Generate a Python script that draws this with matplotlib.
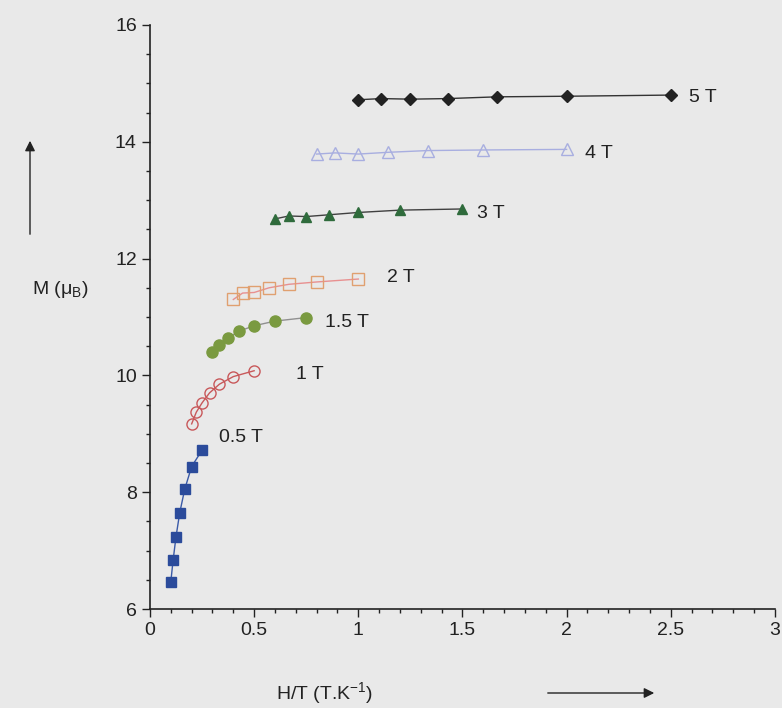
import numpy as np
import matplotlib.pyplot as plt

plt.rcParams['font.family'] = ['Liberation Sans', 'DejaVu Sans']

# temperatures (K) -> H/T for each field
temps = [5, 4.5, 4, 3.5, 3, 2.5, 2]

m_05 = [6.47, 6.84, 7.24, 7.65, 8.05, 8.44, 8.72]
m_1 = [9.17, 9.37, 9.53, 9.70, 9.85, 9.98, 10.08]
m_15 = [10.40, 10.52, 10.64, 10.76, 10.85, 10.93, 10.99]
m_2 = [11.30, 11.41, 11.42, 11.50, 11.56, 11.60, 11.65]
m_3 = [12.68, 12.73, 12.72, 12.75, 12.79, 12.83, 12.85]
m_4 = [13.79, 13.81, 13.79, 13.82, 13.85, 13.86, 13.87]
m_5 = [14.72, 14.74, 14.73, 14.74, 14.77, 14.78, 14.80]

fields = [0.5, 1, 1.5, 2, 3, 4, 5]
labels = ['0.5 T', '1 T', '1.5 T', '2 T', '3 T', '4 T', '5 T']
series = [m_05, m_1, m_15, m_2, m_3, m_4, m_5]

styles = [
    dict(marker='s', mfc='#2b4b9b', mec='#2b4b9b', color='#3a5aa8', ms=7),
    dict(marker='o', mfc='none', mec='#c8585a', color='#c8585a', ms=8),
    dict(marker='o', mfc='#7a9a40', mec='#7a9a40', color='#909090', ms=8),
    dict(marker='s', mfc='none', mec='#e0a070', color='#e89090', ms=8),
    dict(marker='^', mfc='#2f6b3c', mec='#2f6b3c', color='#404040', ms=7),
    dict(marker='^', mfc='none', mec='#a8aee0', color='#a8aee0', ms=8),
    dict(marker='D', mfc='#222222', mec='#222222', color='#333333', ms=6),
]
label_off = [(0.08, 0.22), (0.2, -0.07), (0.09, -0.09), (0.14, 0.03),
             (0.07, -0.07), (0.09, -0.07), (0.085, -0.05)]

bg = '#e9e9e9'
fig = plt.figure(figsize=(7.82, 7.08), dpi=100, facecolor=bg)
ax = fig.add_axes([0.1918, 0.1398, 0.7992, 0.8249])
ax.set_facecolor(bg)

for H, m, st, lab, off in zip(fields, series, styles, labels, label_off):
    x = [H / t for t in temps]
    ax.plot(x, m, lw=1, mew=1, **st)
    ax.text(x[-1] + off[0], m[-1] + off[1], lab, fontsize=14, va='center', ha='left', color='#222222')

ax.set_xlim(0, 3)
ax.set_ylim(6, 16)
ax.set_xticks(np.arange(0, 3.01, 0.5))
ax.set_xticklabels(['0', '0.5', '1', '1.5', '2', '2.5', '3'])
ax.set_xticks(np.arange(0, 3.01, 0.1), minor=True)
ax.set_yticks([6, 8, 10, 12, 14, 16])
ax.set_yticks(np.arange(6, 16.01, 0.5), minor=True)
ax.tick_params(which='major', length=6, width=1, labelsize=14, colors='#222222')
ax.tick_params(which='minor', length=3, width=1, colors='#222222')
for s in ['top', 'right']:
    ax.spines[s].set_visible(False)
for s in ['left', 'bottom']:
    ax.spines[s].set_color('#222222')
    ax.spines[s].set_linewidth(1.2)

# axis titles with arrows
fig.text(60 / 782, 1 - 290 / 708, r'M ($\mathregular{\mu_B}$)', fontsize=14, ha='center', va='center', color='#222222')
fig.text(325 / 782, 1 - 693 / 708, r'H/T (T.K$\mathregular{^{-1}}$)', fontsize=14, ha='center', va='center', color='#222222')
ax.annotate('', xy=(30 / 782, 1 - 138 / 708), xytext=(30 / 782, 1 - 237 / 708),
            xycoords='figure fraction', textcoords='figure fraction',
            arrowprops=dict(arrowstyle='-|>', color='#222222', lw=1, mutation_scale=15))
ax.annotate('', xy=(657 / 782, 1 - 693 / 708), xytext=(545 / 782, 1 - 693 / 708),
            xycoords='figure fraction', textcoords='figure fraction',
            arrowprops=dict(arrowstyle='-|>', color='#222222', lw=1, mutation_scale=15))

fig.savefig('out.png', dpi=100, facecolor=bg)
